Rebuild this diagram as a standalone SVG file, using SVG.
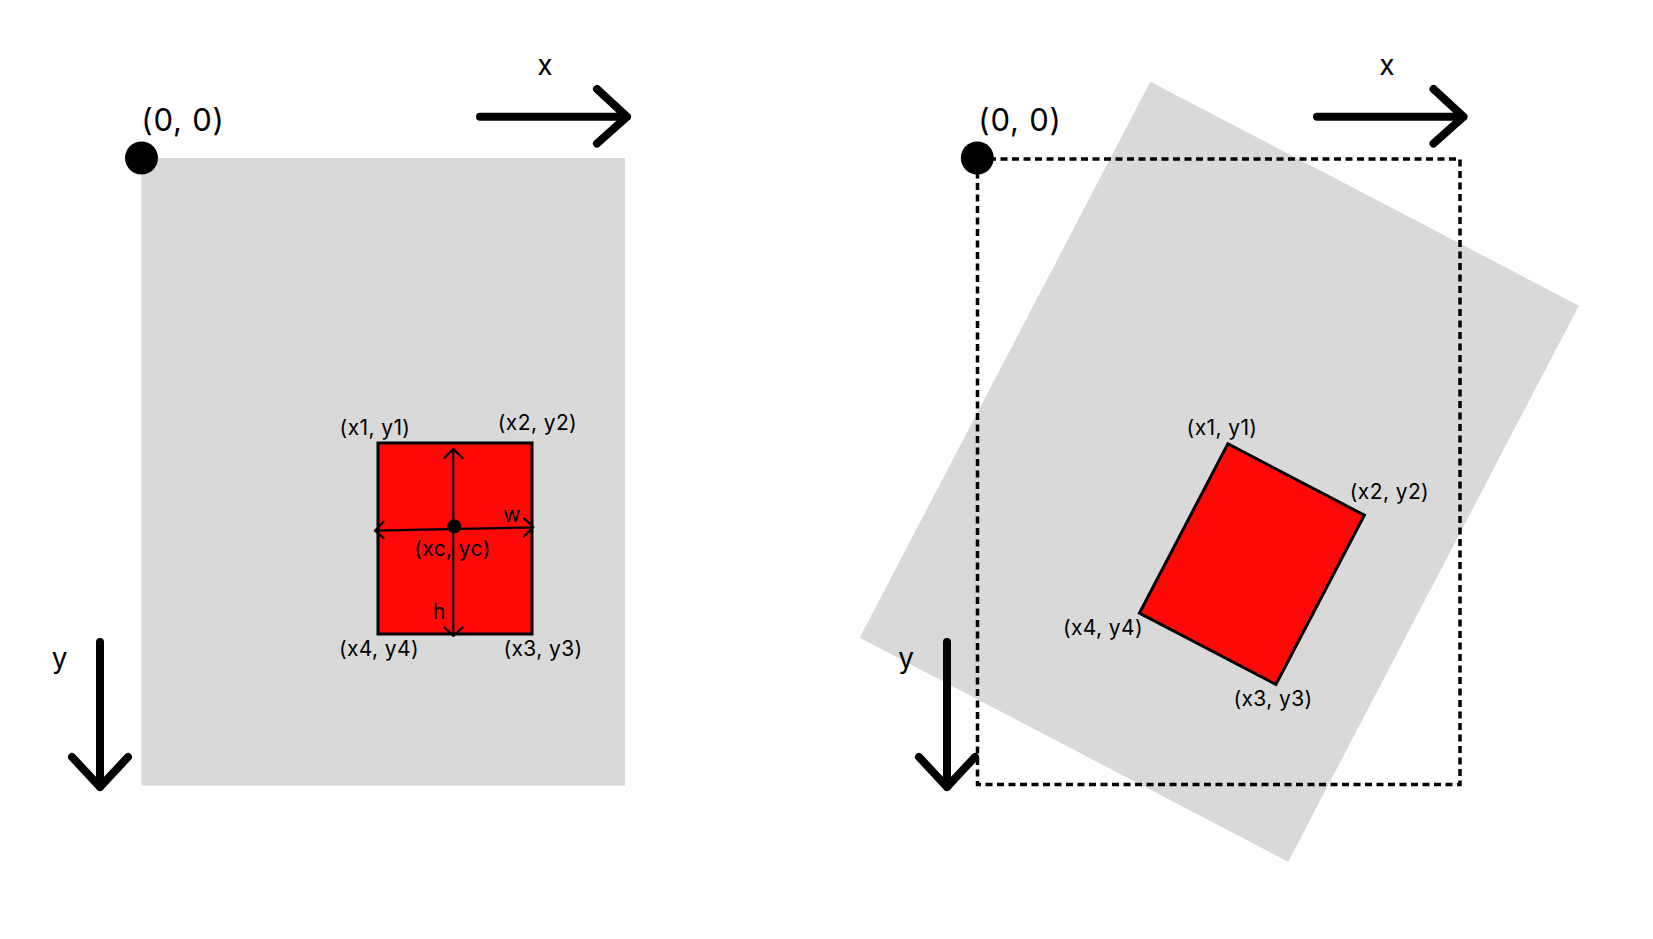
<svg xmlns="http://www.w3.org/2000/svg" width="1653" height="939" viewBox="0 0 1653 939">
<style>
.bg{fill:#d9d9d9}
.red{fill:#ff0808;stroke:#000;stroke-width:3}
.axis{fill:none;stroke:#000;stroke-width:8;stroke-linecap:round;stroke-linejoin:round}
.thin{fill:none;stroke:#000;stroke-width:2.2;stroke-linecap:round;stroke-linejoin:round}
.dash{fill:none;stroke:#000;stroke-width:3.5;stroke-dasharray:7 4.5}
text{font-family:Inter,"Liberation Sans",sans-serif;fill:#000;text-anchor:middle}
.lbl{font-size:21px;letter-spacing:0.4px}
.ax{font-size:28px}
.org{font-size:31px;letter-spacing:0.8px}
</style>
<rect width="1653" height="939" fill="#fff"/>
<g id="left">
  <rect id="left-canvas" class="bg" x="141.5" y="158" width="483.5" height="627.5"/>
  <g id="left-box">
    <rect class="red" x="378" y="443" width="154" height="191"/>
  </g>
  <g id="left-measures">
    <path class="thin" d="M453.3 449 V636 M444.5 458 L453.3 449 L462.5 458 M444.5 627.5 L453.3 636 L462.5 627.5"/>
    <path class="thin" d="M375 530.7 L533.3 527.3 M383.5 521.7 L375 530.7 L383.5 538 M524 518.3 L533.3 527.3 L524 536.5"/>
    <circle cx="454.3" cy="526.5" r="7" fill="#000"/>
  </g>
  <g id="left-origin">
    <circle cx="141.5" cy="158" r="16.5" fill="#000"/>
    <text class="org" x="183" y="131">(0, 0)</text>
  </g>
  <g id="left-axes">
    <path class="axis" d="M480 116.7 H627 M597 89 L627 116.7 L597 143.5"/>
    <text class="ax" x="545" y="75">x</text>
    <path class="axis" d="M100 642 V787 M72 757 L100 787 L128 757"/>
    <text class="ax" x="59.5" y="668">y</text>
  </g>
  <g id="left-labels">
    <text class="lbl" x="375" y="435">(x1, y1)</text>
    <text class="lbl" x="537.5" y="430">(x2, y2)</text>
    <text class="lbl" x="379" y="656">(x4, y4)</text>
    <text class="lbl" x="543" y="656">(x3, y3)</text>
    <text class="lbl" x="452.5" y="556">(xc, yc)</text>
    <text class="lbl" x="512" y="522">w</text>
    <text class="lbl" x="439.5" y="619">h</text>
  </g>
</g>
<g id="right">
  <g id="right-rotated" transform="rotate(27.6 1219.25 471.75)">
    <rect id="right-canvas" class="bg" x="977.5" y="158" width="483.5" height="627.5"/>
  </g>
  <rect id="right-bounds" class="dash" x="977.5" y="159" width="482.5" height="625.5"/>
  <g id="right-box" transform="rotate(27.6 1219.25 471.75)">
    <rect class="red" x="1214" y="443" width="154" height="191"/>
  </g>
  <g id="right-origin">
    <circle cx="977.3" cy="158" r="16.5" fill="#000"/>
    <text class="org" x="1020" y="131">(0, 0)</text>
  </g>
  <g id="right-axes">
    <path class="axis" d="M1317 116.7 H1463.5 M1433.5 89 L1463.5 116.7 L1433.5 143.5"/>
    <text class="ax" x="1387" y="75">x</text>
    <path class="axis" d="M947 642 V787 M919 757 L947 787 L975 757"/>
    <text class="ax" x="906" y="668">y</text>
  </g>
  <g id="right-labels">
    <text class="lbl" x="1222" y="435">(x1, y1)</text>
    <text class="lbl" x="1389.5" y="499">(x2, y2)</text>
    <text class="lbl" x="1103" y="635">(x4, y4)</text>
    <text class="lbl" x="1273" y="706">(x3, y3)</text>
  </g>
</g>
</svg>
